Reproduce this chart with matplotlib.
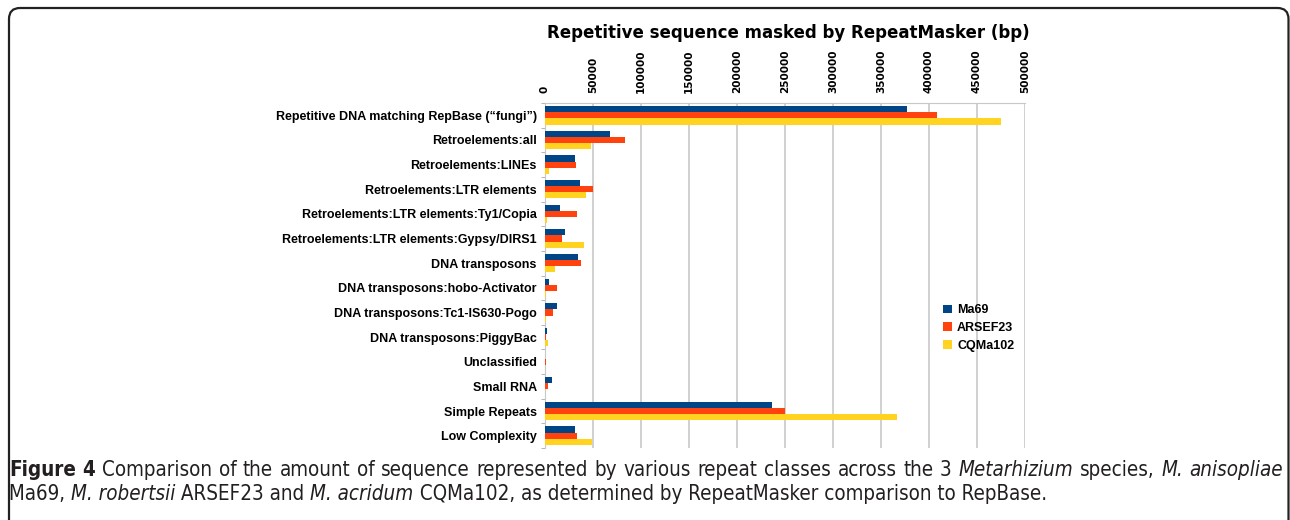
import matplotlib
matplotlib.use('Agg')
import matplotlib.pyplot as plt
import numpy as np
from matplotlib.patches import FancyBboxPatch

categories = [
    'Repetitive DNA matching RepBase (\u201cfungi\u201d)',
    'Retroelements:all',
    'Retroelements:LINEs',
    'Retroelements:LTR elements',
    'Retroelements:LTR elements:Ty1/Copia',
    'Retroelements:LTR elements:Gypsy/DIRS1',
    'DNA transposons',
    'DNA transposons:hobo-Activator',
    'DNA transposons:Tc1-IS630-Pogo',
    'DNA transposons:PiggyBac',
    'Unclassified',
    'Small RNA',
    'Simple Repeats',
    'Low Complexity',
]
ma69 = [377000, 67500, 31000, 36500, 15500, 21000, 34000, 4000, 13000, 2500, 500, 7000, 236000, 31000]
arsef23 = [408000, 83000, 32000, 50000, 33000, 17500, 38000, 12000, 8000, 700, 1500, 3000, 250000, 33000]
cqma102 = [475000, 47500, 4000, 43000, 2000, 41000, 10000, 1000, 1000, 2800, 300, 500, 367000, 49000]
series_names = ['Ma69', 'ARSEF23', 'CQMa102']
colors = ['#004586', '#ff420e', '#ffd320']
xticks = [0, 50000, 100000, 150000, 200000, 250000, 300000, 350000, 400000, 450000, 500000]

W, H = 1290, 520
fig = plt.figure(figsize=(W / 100, H / 100), dpi=100)

# rounded frame round the whole figure, drawn in pixel units on a background axes
bg = fig.add_axes([0, 0, 1, 1], zorder=-1)
bg.set_xlim(0, W)
bg.set_ylim(H, 0)
bg.axis('off')
bg.add_patch(FancyBboxPatch((9, 8), 1279.5, 540, boxstyle='round,pad=0,rounding_size=11',
                            fill=False, edgecolor='#222222', linewidth=1.6))

ax = fig.add_axes([545 / W, 1 - 448 / H, 480 / W, 345 / H])
y = np.arange(len(categories))
h = 0.25
for i, (vals, name) in enumerate(zip([ma69, arsef23, cqma102], series_names)):
    ax.barh(y + (i - 1) * h, vals, height=h, color=colors[i], label=name, zorder=3)

ax.set_xlim(0, 500000)
ax.set_ylim(13.5, -0.45)
ax.xaxis.tick_top()
ax.set_xticks(xticks)
ax.set_xticklabels([str(t) for t in xticks], rotation=90, fontsize=7.5,
                   fontweight='bold', family='DejaVu Sans')
ax.tick_params(axis='x', length=0, pad=7)
ax.set_yticks(y)
ax.set_yticklabels(categories, fontsize=9, fontweight='bold', family='Liberation Sans')
ax.tick_params(axis='y', length=0, pad=6)
ax.set_yticks(np.arange(len(categories) + 1) - 0.5, minor=True)
ax.tick_params(axis='y', which='minor', length=3, color='#aaaaaa')
ax.grid(axis='x', color='#c8c8c8', linewidth=1.2, zorder=0)
for s in ax.spines.values():
    s.set_color('#c8c8c8')
ax.spines['right'].set_visible(False)
ax.spines['bottom'].set_visible(False)

fig.text(788 / W, 1 - 33 / H, 'Repetitive sequence masked by RepeatMasker (bp)',
         ha='center', va='center', fontsize=12, fontweight='bold', family='DejaVu Sans')

ax.legend(loc='upper left', bbox_to_anchor=(932 / W, 1 - 293 / H),
          bbox_transform=fig.transFigure, frameon=False,
          prop={'family': 'Liberation Sans', 'weight': 'bold', 'size': 9},
          handlelength=0.7, handleheight=0.7, handletextpad=0.4, labelspacing=0.45)

# caption: first line justified word by word, second line set as runs
cap_size = 14.8
cap_color = '#231f20'
line1 = [('Figure', 'bold', 'normal'), ('4', 'bold', 'normal')]
line1 += [(w, 'normal', 'normal') for w in
          'Comparison of the amount of sequence represented by various repeat classes across the 3'.split()]
line1 += [('Metarhizium', 'normal', 'italic'), ('species,', 'normal', 'normal'),
          ('M.', 'normal', 'italic'), ('anisopliae', 'normal', 'italic')]
line2 = [('Ma69, ', 'normal', 'normal'), ('M. robertsii', 'normal', 'italic'),
         (' ARSEF23 and ', 'normal', 'normal'), ('M. acridum', 'normal', 'italic'),
         (' CQMa102, as determined by RepeatMasker comparison to RepBase.', 'normal', 'normal')]

renderer = fig.canvas.get_renderer()


def cap_text(x, yb, txt, wt, st):
    return fig.text(x / W, 1 - yb / H, txt, fontsize=cap_size, fontweight=wt, style=st,
                    family='DejaVu Sans', stretch='condensed', color=cap_color,
                    va='baseline', ha='left')


left, right = 9, 1283
words = [cap_text(left, 476, *w) for w in line1]
widths = [t.get_window_extent(renderer=renderer).width for t in words]
gap = (right - left - sum(widths)) / (len(words) - 1)
xpos = left
for t, wd in zip(words, widths):
    t.set_x(xpos / W)
    xpos += wd + gap

xpos = left
for txt, wt, st in line2:
    t = cap_text(xpos, 500, txt, wt, st)
    xpos += t.get_window_extent(renderer=renderer).width

fig.savefig('out.png', dpi=100)
